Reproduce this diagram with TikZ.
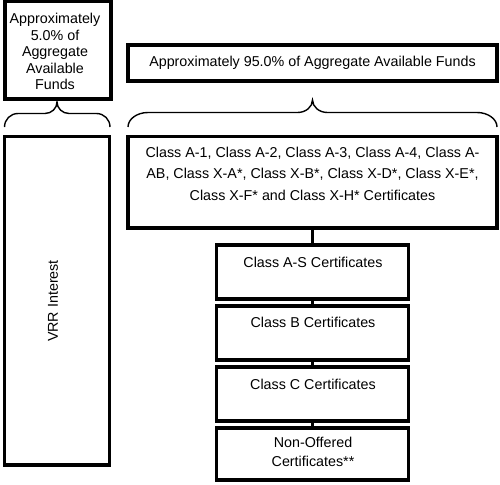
\documentclass[tikz,border=0pt]{standalone}
\usepackage{fontspec}
\setmainfont{Liberation Sans}
\begin{document}
\begin{tikzpicture}[x=1pt,y=-1pt,
  box/.style={draw=black, line width=3.5pt, inner sep=0pt, outer sep=0pt},
  lbl/.style={inner sep=0pt, align=center, font=\fontsize{14.3}{16.5}\selectfont},
  link/.style={draw=black, line width=3.5pt},
  bracepath/.style={draw=black, line width=1.4pt}]
\useasboundingbox (0,0) rectangle (500,484);
% boxes
\node[box, minimum width=106pt, minimum height=97.5pt] (tl) at (58,50.25) {};
\node[box, minimum width=369pt, minimum height=36pt] (tr) at (312.5,63) {};
\node[box, minimum width=105pt, minimum height=328.5pt] (vrr) at (57,300.75) {};
\node[box, minimum width=369pt, minimum height=91.5pt] (ca) at (312.5,182.25) {};
\node[box, minimum width=192pt, minimum height=54pt] (as) at (312.5,272) {};
\node[box, minimum width=192pt, minimum height=54pt] (cb) at (312.5,333) {};
\node[box, minimum width=192pt, minimum height=54pt] (cc) at (312.5,394) {};
\node[box, minimum width=192pt, minimum height=52pt] (no) at (312.5,454) {};
% texts
\node[lbl] (tltext) at (55,51.7) {Approximately\\5.0\% of\\Aggregate\\Available\\Funds};
\node[lbl] (trtext) at (tr.center) {Approximately 95.0\% of Aggregate Available Funds};
\node[lbl, rotate=90] (vrrtext) at (53.1,301) {VRR Interest};
\node[lbl, anchor=north, font=\fontsize{14.3}{21.5}\selectfont] (catext) at (312.5,146.6)
  {Class A-1, Class A-2, Class A-3, Class A-4, Class A-\\AB, Class X-A*, Class X-B*, Class X-D*, Class X-E*,\\Class X-F* and Class X-H* Certificates};
\node[lbl, anchor=base] (astext) at (313,267) {Class A-S Certificates};
\node[lbl, anchor=base] (cbtext) at (313,327) {Class B Certificates};
\node[lbl, anchor=base] (cctext) at (313,389) {Class C Certificates};
\node[lbl, anchor=north, font=\fontsize{14.3}{19}\selectfont] (notext) at (313,436.6) {Non-Offered\\Certificates**};
% connectors
\draw[link] (ca.south) -- (as.north);
\draw[link] (as.south) -- (cb.north);
\draw[link] (cb.south) -- (cc.north);
\draw[link] (cc.south) -- (no.north);
% braces
\draw[bracepath] (4.5,127) .. controls (4.5,119.5) and (10.5,113.5) .. (18,113.5)
  -- (45,113.5) .. controls (51.6,113.5) and (57,108.3) .. (57,102)
  .. controls (57,108.3) and (62.4,113.5) .. (69,113.5)
  -- (96.5,113.5) .. controls (104,113.5) and (110,119.5) .. (110,127);
\draw[bracepath] (128,127) .. controls (128,119) and (137,112.5) .. (148,112.5)
  -- (297.5,112.5) .. controls (305.8,112.5) and (312.5,106.9) .. (312.5,100)
  .. controls (312.5,106.9) and (319.2,112.5) .. (327.5,112.5)
  -- (477,112.5) .. controls (488,112.5) and (497,119) .. (497,127);
\end{tikzpicture}
\end{document}
